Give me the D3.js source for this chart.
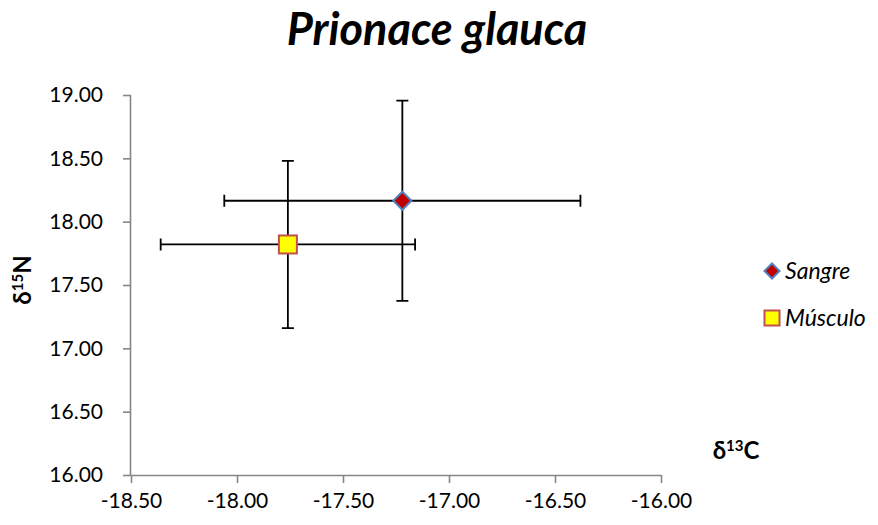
<!DOCTYPE html>
<html>
<head>
<meta charset="utf-8">
<script src="https://cdn.jsdelivr.net/npm/d3@7"></script>
<style>
  html, body { margin: 0; padding: 0; background: #fff; }
  svg { display: block; }
  text { font-family: Lato, "Open Sans", sans-serif; }
</style>
</head>
<body>
<svg id="chart" width="878" height="525"></svg>
<script>
// Stable isotope means (δ13C, δ15N) with standard deviations per tissue
const series = ["Sangre", "Músculo"];
const d13C = [-17.22, -17.76];
const d15N = [18.165, 17.82];
const sd13C = [0.84, 0.60];
const sd15N = [0.79, 0.66];

const xTicks = [-18.5, -18.0, -17.5, -17.0, -16.5, -16.0];
const yTicks = [16.0, 16.5, 17.0, 17.5, 18.0, 18.5, 19.0];

const svg = d3.select("#chart");
const plot = { left: 131, right: 661, top: 95, bottom: 475 };

const x = d3.scaleLinear().domain([-18.5, -16.0]).range([plot.left, plot.right]);
const y = d3.scaleLinear().domain([16.0, 19.0]).range([plot.bottom, plot.top]);

const axisColor = "#868686";

// Title
svg.append("text")
  .attr("x", 437).attr("y", 45)
  .attr("text-anchor", "middle")
  .attr("font-size", 45).attr("font-weight", "bold").attr("font-style", "italic")
  .attr("fill", "#000")
  .text("Prionace glauca");

// Axes
const fmt = d3.format(".2f");
const xAxis = d3.axisBottom(x).tickValues(xTicks).tickSize(8).tickPadding(10).tickFormat(fmt);
const yAxis = d3.axisLeft(y).tickValues(yTicks).tickSize(8).tickPadding(20).tickFormat(fmt);

const gx = svg.append("g").attr("transform", `translate(0,${plot.bottom})`).call(xAxis);
const gy = svg.append("g").attr("transform", `translate(${plot.left},0)`).call(yAxis);

[gx, gy].forEach(g => {
  g.select(".domain").attr("stroke", axisColor).attr("stroke-width", 1.6);
  g.selectAll(".tick line").attr("stroke", axisColor).attr("stroke-width", 1.6);
  g.selectAll(".tick text")
    .attr("fill", "#000").attr("font-size", 21)
    .attr("font-family", "Lato, 'Open Sans', sans-serif");
});
// Plain hyphen-minus in the tick labels
gx.selectAll(".tick text").text(d => fmt(d).replace("−", "-"));
gx.select(".domain").attr("d", `M${plot.left},0.5H${plot.right}`);
gy.select(".domain").attr("d", `M-0.5,${plot.top}V${plot.bottom}`);

// Axis titles
const yt = svg.append("text")
  .attr("transform", `translate(31,280) rotate(-90)`)
  .attr("text-anchor", "middle")
  .attr("font-size", 24).attr("font-weight", "bold").attr("fill", "#000");
yt.append("tspan").text("δ");
yt.append("tspan").attr("font-size", 15).attr("dy", -8).text("15");
yt.append("tspan").attr("dy", 8).text("N");

const xt = svg.append("text")
  .attr("x", 736).attr("y", 459)
  .attr("text-anchor", "middle")
  .attr("font-size", 24).attr("font-weight", "bold").attr("fill", "#000");
xt.append("tspan").text("δ");
xt.append("tspan").attr("font-size", 15).attr("dy", -8).text("13");
xt.append("tspan").attr("dy", 8).text("C");

// Error bars
const cap = 6;
const eb = svg.append("g").attr("stroke", "#000").attr("stroke-width", 1.8).attr("fill", "none");
series.forEach((s, i) => {
  const cx = x(d13C[i]), cy = y(d15N[i]);
  const x0 = x(d13C[i] - sd13C[i]), x1 = x(d13C[i] + sd13C[i]);
  const y0 = y(d15N[i] - sd15N[i]), y1 = y(d15N[i] + sd15N[i]);
  eb.append("path").attr("d",
    `M${x0},${cy}H${x1}` +
    `M${x0},${cy - cap}V${cy + cap}` +
    `M${x1},${cy - cap}V${cy + cap}` +
    `M${cx},${y0}V${y1}` +
    `M${cx - cap},${y0}H${cx + cap}` +
    `M${cx - cap},${y1}H${cx + cap}`);
});

// Markers
const markerStyle = [
  { shape: "diamond", fill: "#C00000", stroke: "#4F81BD" },
  { shape: "square", fill: "#FFFF00", stroke: "#C0504D" }
];
function drawMarker(g, cx, cy, st, size) {
  if (st.shape === "diamond") {
    const r = size / 2;
    g.append("path")
      .attr("d", `M${cx},${cy - r}L${cx + r},${cy}L${cx},${cy + r}L${cx - r},${cy}Z`)
      .attr("fill", st.fill).attr("stroke", st.stroke).attr("stroke-width", 2);
  } else {
    g.append("rect")
      .attr("x", cx - size / 2).attr("y", cy - size / 2)
      .attr("width", size).attr("height", size)
      .attr("fill", st.fill).attr("stroke", st.stroke).attr("stroke-width", 2);
  }
}
const mk = svg.append("g");
series.forEach((s, i) => {
  drawMarker(mk, x(d13C[i]), y(d15N[i]), markerStyle[i], markerStyle[i].shape === "diamond" ? 18 : 18);
});

// Legend
const legendY = [271, 318];
const lg = svg.append("g");
series.forEach((s, i) => {
  drawMarker(lg, 772, legendY[i], markerStyle[i], 15);
  lg.append("text")
    .attr("x", 785).attr("y", legendY[i] + 8)
    .attr("font-size", 23).attr("font-style", "italic").attr("fill", "#000")
    .text(s);
});
</script>
</body>
</html>
